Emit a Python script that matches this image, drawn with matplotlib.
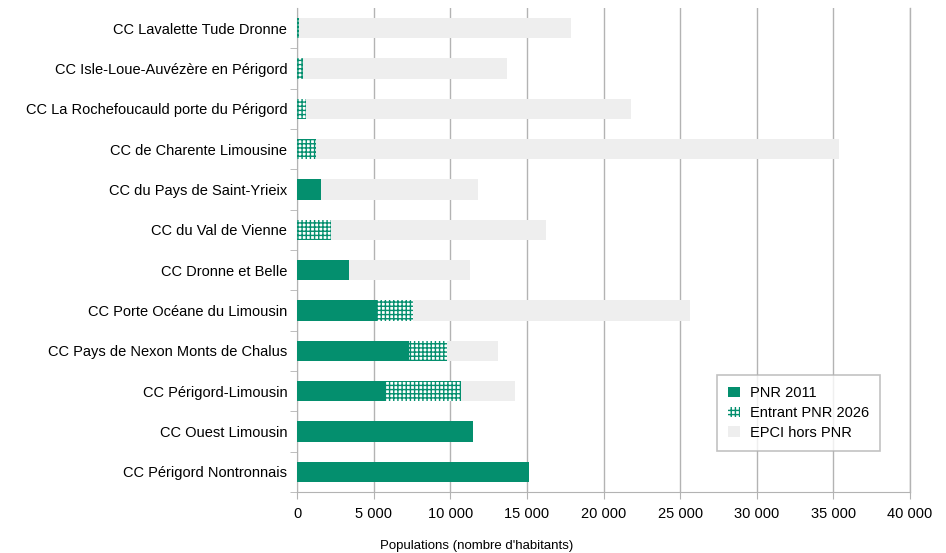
import matplotlib.pyplot as plt
from matplotlib.ticker import FuncFormatter, FixedLocator
from matplotlib.patches import Patch

plt.rcParams['font.family'] = ['Liberation Sans', 'DejaVu Sans']
plt.rcParams['hatch.linewidth'] = 1.0

epci = ["CC Lavalette Tude Dronne",
        "CC Isle-Loue-Auvézère en Périgord",
        "CC La Rochefoucauld porte du Périgord",
        "CC de Charente Limousine",
        "CC du Pays de Saint-Yrieix",
        "CC du Val de Vienne",
        "CC Dronne et Belle",
        "CC Porte Océane du Limousin",
        "CC Pays de Nexon Monts de Chalus",
        "CC Périgord-Limousin",
        "CC Ouest Limousin",
        "CC Périgord Nontronnais"]

pnr_2011 = [0, 0, 0, 0, 1545, 0, 3370, 5240, 7290, 5790, 11465, 15160]
entrant_2026 = [120, 410, 590, 1240, 0, 2220, 0, 2310, 2480, 4890, 0, 0]
hors_pnr = [17760, 13320, 21210, 34130, 10285, 14010, 7940, 18090, 3350, 3530, 0, 0]

green = '#048f6e'
grey = '#eeeeee'

fig = plt.figure(figsize=(9.46, 5.53), dpi=100)
ax = fig.add_axes([297 / 946, 1 - 492 / 553, 613 / 946, 484 / 553])

y = list(range(len(epci)))
left2 = [a for a in pnr_2011]
left3 = [a + b for a, b in zip(pnr_2011, entrant_2026)]

ax.barh(y, pnr_2011, height=0.5, color=green, linewidth=0, zorder=3)
ax.barh(y, entrant_2026, left=left2, height=0.5, facecolor='white',
        edgecolor=green, hatch='++++', linewidth=0, zorder=3)
ax.barh(y, hors_pnr, left=left3, height=0.5, color=grey, linewidth=0, zorder=3)

ax.set_ylim(len(epci) - 0.5, -0.5)
ax.set_yticks(y)
ax.set_yticklabels(epci, fontsize=10.5)
ax.yaxis.set_minor_locator(FixedLocator([i + 0.5 for i in range(len(epci))]))
ax.tick_params(axis='y', which='major', length=0, pad=7)
ax.tick_params(axis='y', which='minor', length=5, color='#b3b3b3')

ax.set_xlim(0, 40000)
ax.set_xticks(range(0, 40001, 5000))
ax.xaxis.set_major_formatter(FuncFormatter(lambda v, p: f"{int(v):,}".replace(",", " ")))
ax.tick_params(axis='x', length=5, color='#b3b3b3', labelsize=10.5, pad=6)
ax.grid(axis='x', color='#b3b3b3', linewidth=1, zorder=0)
ax.axvline(40000, color='#b3b3b3', linewidth=1, zorder=0, clip_on=False)

for s in ['top', 'right']:
    ax.spines[s].set_visible(False)
ax.spines['left'].set_color('#b3b3b3')
ax.spines['bottom'].set_color('#b3b3b3')

fig.text(477 / 946, 1 - 546 / 553, "Populations (nombre d'habitants)",
         ha='center', va='center', fontsize=9.5)

handles = [Patch(facecolor=green, linewidth=0, label='PNR 2011'),
           Patch(facecolor='white', edgecolor=green, hatch='++++', linewidth=0,
                 label='Entrant PNR 2026'),
           Patch(facecolor=grey, linewidth=0, label='EPCI hors PNR')]
leg = ax.legend(handles=handles, loc='upper left',
                bbox_to_anchor=((717 - 297) / 613, 1 - (375 - 8) / 484),
                fontsize=10.5, frameon=True, fancybox=False, handlelength=0.8,
                handleheight=0.7, handletextpad=0.7, borderpad=0.75,
                labelspacing=0.4, borderaxespad=0)
leg.get_frame().set_edgecolor('#b3b3b3')
leg.get_frame().set_linewidth(1.2)

fig.savefig("out.png", dpi=100)
